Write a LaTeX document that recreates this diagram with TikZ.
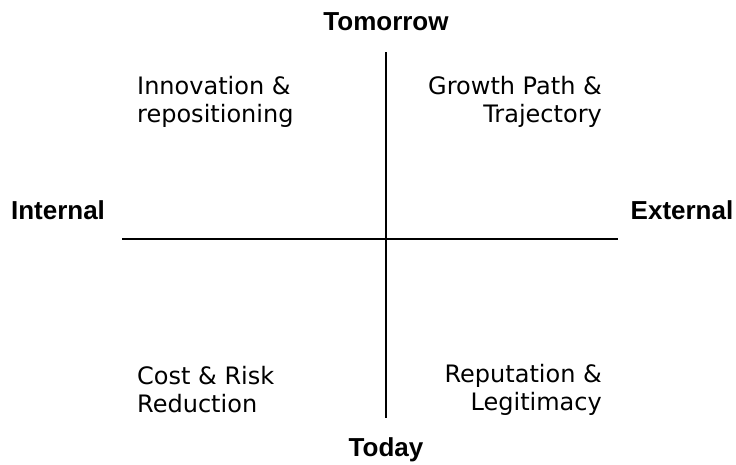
\documentclass[tikz,border=0pt]{standalone}
\usepackage{fontspec}
\setmainfont{DejaVu Sans}
\newfontfamily\axisfont{Liberation Sans}
\usepackage{tikz}

\begin{document}
\begin{tikzpicture}[x=1pt,y=-1pt]
        \useasboundingbox (0,0) rectangle (736,464);
        % axes
        \coordinate (top) at (386,52);
        \coordinate (bottom) at (386,418);
        \coordinate (left) at (122,239);
        \coordinate (right) at (618,239);
        \draw[line width=1.5pt] (top) -- (bottom);
        \draw[line width=1.5pt] (left) -- (right);
        % axis labels
        \node[font=\axisfont\bfseries\fontsize{26}{30}\selectfont] (tomorrow) at (386,22) {Tomorrow};
        \node[font=\axisfont\bfseries\fontsize{26}{30}\selectfont] (today) at (386,450) {Today};
        \node[font=\axisfont\bfseries\fontsize{26}{30}\selectfont] (internal) at (58,210) {Internal};
        \node[font=\axisfont\bfseries\fontsize{26}{30}\selectfont] (external) at (682,210) {External};
        % quadrants
        \node[anchor=west, align=left, inner sep=0, font=\fontsize{24}{28}\selectfont] (innovation) at (137,102) {Innovation \&\\repositioning};
        \node[anchor=east, align=right, inner sep=0, font=\fontsize{24}{28}\selectfont] (growth) at (602,102) {Growth Path \&\\Trajectory};
        \node[anchor=west, align=left, inner sep=0, font=\fontsize{24}{28}\selectfont] (cost) at (137,390) {Cost \& Risk\\Reduction};
        \node[anchor=east, align=right, inner sep=0, font=\fontsize{24}{28}\selectfont] (reputation) at (602,390) {Reputation \&\\Legitimacy};
    \end{tikzpicture}
\end{document}
